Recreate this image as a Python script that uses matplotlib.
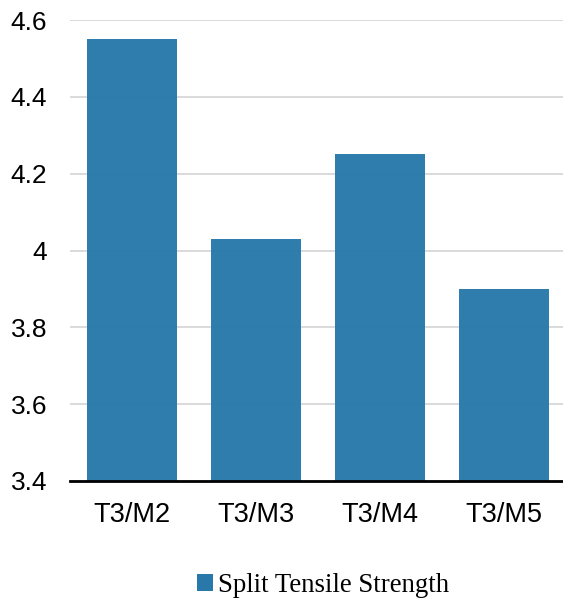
import numpy as np
import matplotlib
matplotlib.use('Agg')
import matplotlib.pyplot as plt
from matplotlib.patches import Patch

# values
categories = ['T3/M2', 'T3/M3', 'T3/M4', 'T3/M5']
strength = [4.55, 4.03, 4.25, 3.90]
yticks = [3.4, 3.6, 3.8, 4.0, 4.2, 4.4, 4.6]
ytick_labels = ['3.4', '3.6', '3.8', '4', '4.2', '4.4', '4.6']
series_name = 'Split Tensile Strength'

bar_color = '#2879aa'

fig = plt.figure(figsize=(5.63, 5.99), dpi=100)
ax = fig.add_axes([70 / 563, 1 - 481 / 599, 493 / 563, 461 / 599])

x = np.arange(len(categories))
ax.set_axisbelow(True)
ax.grid(axis='y', color='#d4d4d4', linewidth=1.2)
ax.bar(x, strength, width=0.72, color=bar_color, alpha=0.97, zorder=2)

ax.set_ylim(3.4, 4.6)
ax.set_xlim(-0.5, 3.475)
ax.set_yticks(yticks)
ax.set_yticklabels(ytick_labels, fontfamily='Liberation Sans', fontsize=19)
ax.set_xticks(x)
ax.set_xticklabels(categories, fontfamily='Liberation Sans', fontsize=19.5)
ax.tick_params(axis='y', length=0, pad=16.5)
ax.tick_params(axis='x', length=0, pad=15)

for s in ['top', 'right', 'left']:
    ax.spines[s].set_visible(False)
ax.spines['bottom'].set_color('black')
ax.spines['bottom'].set_linewidth(2)
ax.spines['bottom'].set_zorder(3)

handle = Patch(facecolor=bar_color, edgecolor='none')
fig.legend([handle], [series_name], loc='center', bbox_to_anchor=(0.574, 0.023),
           frameon=False, prop={'family': 'Liberation Serif', 'size': 19.3},
           handlelength=0.6, handleheight=0.6, handletextpad=0.2,
           borderpad=0, borderaxespad=0)

fig.savefig('out.png', dpi=100)
